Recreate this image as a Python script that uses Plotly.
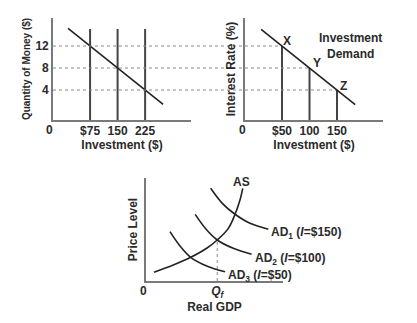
import plotly.graph_objects as go

W, H = 417, 323

# ---- Panel 1: quantity of money -> investment ----
money_invest = [75, 150, 225]          # investment at each money level ($)
money_qty = [12, 8, 4]                 # quantity of money ($)
money_line_invest = [15, 274]
money_line_qty = [15.2, 1.39]
money_bar_top = 15.1
money_xticks = ["$75", "150", "225"]
money_yticks = ["12", "8", "4"]

# ---- Panel 2: investment demand ----
rates = [12, 8, 4]                     # interest rate levels
demand_invest = [50, 100, 150]         # investment at X, Y, Z ($)
demand_labels = ["X", "Y", "Z"]
demand_line_invest = [12, 183]
demand_line_rate = [15.04, 1.36]
demand_xticks = ["$50", "100", "150"]

# ---- Panel 3: aggregate supply / aggregate demand ----
as_gdp = [5.8, 19.9, 32.6, 44.3, 52.0, 60.1, 65.0, 68.6, 70.6]
as_price = [8.4, 15.5, 23.0, 31.8, 39.8, 51.1, 64.8, 78.6, 90.0]
ad1_gdp = [47.2, 55.7, 65.0, 75.9, 89.3]
ad1_price = [90.0, 75.4, 64.8, 56.0, 50.2]
ad2_gdp = [35.9, 43.9, 52.0, 63.7, 77.1]
ad2_price = [64.7, 50.2, 39.8, 31.7, 25.9]
ad3_gdp = [17.5, 24.8, 32.6, 44.3, 57.7]
ad3_price = [47.9, 34.0, 23.0, 14.6, 9.0]
ad_labels = ["AD<sub>1</sub> (<i>I</i>=$150)",
             "AD<sub>2</sub> (<i>I</i>=$100)",
             "AD<sub>3</sub> (<i>I</i>=$50)"]
q_full = 52.0
p_full = 39.8

# axis ranges
P1_X = [-26, 350]
P1_Y = [-1.45, 17.09]
P2_X = [-17.3, 233.6]
P3_X = [0, 100]
P3_Y = [0, 100]

# layout boxes in pixels -> paper fractions
def xdom(a, b):
    return [a / W, b / W]

def ydom(top, bottom):
    return [1 - bottom / H, 1 - top / H]

LINE = "#222222"
BAR = "#444444"
AXIS = "#7a7a7a"
DOT = "#8a8a8a"
TXT = "#2a2a2a"
FONT = "Liberation Sans, Arial, sans-serif"

fig = go.Figure()

def line(x, y, xa, ya, color=LINE, width=1.6, dash="solid", shape="linear"):
    fig.add_trace(go.Scatter(x=x, y=y, mode="lines", xaxis=xa, yaxis=ya,
                             line=dict(color=color, width=width, dash=dash, shape=shape),
                             hoverinfo="skip"))

# Panel 1 marks
for inv in money_invest:
    line([inv, inv], [P1_Y[0], money_bar_top], "x", "y", color=BAR, width=2)
line(money_line_invest, money_line_qty, "x", "y")

# Panel 2 marks
for inv, r in zip(demand_invest, rates):
    line([P2_X[0], inv], [r, r], "x2", "y2", color=DOT, width=1, dash="dot")
    line([inv, inv], [P1_Y[0], r], "x2", "y2", color=BAR, width=2)
line(demand_line_invest, demand_line_rate, "x2", "y2")

# Panel 3 marks
line([q_full, q_full], [P3_Y[0], p_full], "x3", "y3", color=DOT, width=1, dash="dot")
line(as_gdp, as_price, "x3", "y3", shape="spline")
for gx, py in [(ad1_gdp, ad1_price), (ad2_gdp, ad2_price), (ad3_gdp, ad3_price)]:
    line(gx, py, "x3", "y3", shape="spline")

# dotted guides running from the money axis across to the demand panel
p1_left = 53 / W
p2_left = 245 / W
shapes = []
for r in rates:
    shapes.append(dict(type="line", xref="paper", yref="y", x0=p1_left, x1=p2_left,
                       y0=r, y1=r, line=dict(color=DOT, width=1, dash="dot")))

annotations = []
shifts = [(5, 5), (7, 5), (6, 4)]
for inv, r, lab, (dx, dy) in zip(demand_invest, rates, demand_labels, shifts):
    annotations.append(dict(x=inv, y=r, xref="x2", yref="y2", text=lab, showarrow=False,
                            xanchor="center", yanchor="middle", xshift=dx, yshift=dy))
annotations.append(dict(x=175, y=12.0, xref="x2", yref="y2", text="Investment<br>Demand",
                        showarrow=False, xanchor="center", yanchor="middle", align="center"))
annotations.append(dict(x=as_gdp[-1], y=as_price[-1], xref="x3", yref="y3", text="AS",
                        showarrow=False, xanchor="center", yanchor="bottom",
                        xshift=-1, yshift=-3))
for gx, py, lab, dy in [(ad1_gdp, ad1_price, ad_labels[0], -4),
                        (ad2_gdp, ad2_price, ad_labels[1], -5),
                        (ad3_gdp, ad3_price, ad_labels[2], -4)]:
    annotations.append(dict(x=gx[-1], y=py[-1], xref="x3", yref="y3", text=lab,
                            showarrow=False, xanchor="left", yanchor="middle",
                            xshift=1, yshift=dy))
# origin labels sit just left of each corner
for xa, ya, x0 in [("x", "y", P1_X[0]), ("x2", "y2", P2_X[0]), ("x3", "y3", P3_X[0])]:
    annotations.append(dict(x=x0, y=0, xref=xa, yref=ya + " domain", text="0",
                            showarrow=False, xanchor="center", yanchor="top",
                            xshift=-3, yshift=-1))

base_axis = dict(showgrid=False, zeroline=False, showline=True, linecolor=AXIS,
                 linewidth=1.6, ticks="", fixedrange=True,
                 tickfont=dict(size=12, color=TXT, family=FONT, weight="bold"))

def title(text, size=12, standoff=2):
    return dict(text=text, font=dict(size=size, color=TXT, family=FONT, weight="bold"),
                standoff=standoff)

fig.update_layout(
    width=W, height=H, autosize=False,
    margin=dict(l=0, r=0, t=0, b=0),
    paper_bgcolor="white", plot_bgcolor="white",
    showlegend=False,
    font=dict(family=FONT, size=12, color=TXT, weight="bold"),
    xaxis=dict(base_axis, domain=xdom(53, 191), range=P1_X, anchor="y",
               tickvals=money_invest, ticktext=money_xticks, ticklabelstandoff=-1,
               title=title("Investment ($)", standoff=3)),
    yaxis=dict(base_axis, domain=ydom(18, 120), range=P1_Y, anchor="x",
               tickvals=money_qty, ticktext=money_yticks,
               title=title("Quantity of Money ($)", size=10, standoff=3)),
    xaxis2=dict(base_axis, domain=xdom(245, 383), range=P2_X, anchor="y2",
                tickvals=demand_invest, ticktext=demand_xticks, ticklabelstandoff=-1,
                title=title("Investment ($)", standoff=3)),
    yaxis2=dict(base_axis, domain=ydom(18, 120), range=P1_Y, anchor="x2",
                showticklabels=False, title=title("Interest Rate (%)", standoff=5)),
    xaxis3=dict(base_axis, domain=xdom(146, 283), range=P3_X, anchor="y3",
                tickvals=[q_full], ticktext=["<i>Q<sub>f</sub></i>"], ticklabelstandoff=-2,
                title=title("Real GDP", standoff=1)),
    yaxis3=dict(base_axis, domain=ydom(178, 281), range=P3_Y, anchor="x3",
                showticklabels=False, title=title("Price Level", standoff=4)),
    shapes=shapes,
    annotations=annotations,
)

fig.write_html("out.html")
